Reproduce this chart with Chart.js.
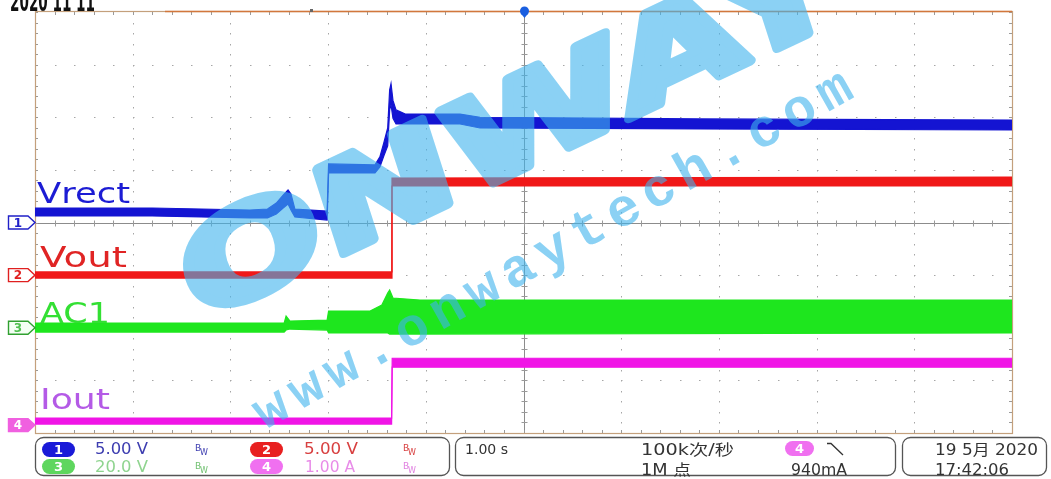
<!DOCTYPE html>
<html><head><meta charset="utf-8">
<script src="https://cdn.jsdelivr.net/npm/chart.js@4.4.0/dist/chart.umd.min.js"></script>
<style>html,body{margin:0;padding:0;background:#fff;overflow:hidden}canvas{display:block}</style>
</head><body>
<canvas id="c" width="1051" height="479"></canvas>
<script>
// ---- Data (time in s relative to trigger; band = max/min envelope) ----
const vrectT  = [-5.00,-3.80,-2.80,-2.62,-2.53,-2.46,-2.41,-2.38,-2.34,-2.01,-1.995,-1.52,-1.47,-1.43,-1.39,-1.37,-1.356,-1.336,-1.305,-1.21,-0.65,-0.445,1.81,5.00];
const vrectHi = [1.38,1.38,1.19,1.28,1.85,2.61,3.09,2.71,1.28,1.09,5.56,5.47,6.23,7.56,8.98,12.6,13.2,11.6,10.7,10.3,10.3,10.0,9.84,9.74];
const vrectLo = [0.62,0.62,0.43,0.43,0.81,1.38,1.76,1.19,0.52,0.24,4.71,4.71,5.28,6.32,7.27,10.7,11.2,9.9,9.36,9.36,9.36,8.98,8.89,8.79];

const voutT  = [-5.00,-1.352,-1.346,5.00];
const voutHi = [0.30,0.30,9.23,9.32];
const voutLo = [-0.28,-0.28,8.47,8.47];

const ac1T  = [-5.00,-2.45,-2.43,-2.39,-2.01,-1.995,-1.57,-1.45,-1.39,-1.37,-1.336,-1.06,5.00];
const ac1Hi = [1.79,1.79,4.45,2.55,2.93,6.35,6.35,8.63,13.2,14.3,11.3,10.5,10.5];
const ac1Lo = [-1.63,-1.63,-0.87,-0.49,-0.87,-2.0,-2.0,-2.0,-2.0,-2.4,-2.4,-2.4,-2.0];

const ioutT  = [-5.00,-1.350,-1.344,5.00];
const ioutHi = [0.133,0.133,1.27,1.27];
const ioutLo = [0.019,0.019,1.10,1.10];

const channelNames = ['Vrect','Vout','AC1','Iout'];
const channelScales = ['5.00 V','5.00 V','20.0 V','1.00 A'];
const timebase = '1.00 s';
const sampleRate = '100k次/秒';
const recordLen = '1M 点';
const triggerLevel = '940mA';
const dateText = '19 5月 2020';
const timeText = '17:42:06';

// ---- channel setup (units per division, ground offset in divisions) ----
const chans = [
  {t:vrectT, hi:vrectHi, lo:vrectLo, perDiv:5,  offset:0,     color:'#1414d2'},
  {t:voutT,  hi:voutHi,  lo:voutLo,  perDiv:5,  offset:-1,    color:'#f01818'},
  {t:ac1T,   hi:ac1Hi,   lo:ac1Lo,   perDiv:20, offset:-2,    color:'#1ee61e'},
  {t:ioutT,  hi:ioutHi,  lo:ioutLo,  perDiv:1,  offset:-3.85, color:'#f014e6'}
];
const datasets = [];
chans.forEach(ch => {
  const d = v => ch.offset + v / ch.perDiv;
  datasets.push({data: ch.t.map((t,k)=>({x:t,y:d(ch.hi[k])})), borderColor:ch.color, borderWidth:1.2, pointRadius:0, fill:false});
  datasets.push({data: ch.t.map((t,k)=>({x:t,y:d(ch.lo[k])})), borderColor:ch.color, borderWidth:1.2, pointRadius:0, fill:'-1', backgroundColor:ch.color});
});

function txt(c, s, x, y, font, color, w) {
  c.save(); c.font = font; c.fillStyle = color; c.textAlign = 'left'; c.textBaseline = 'alphabetic';
  c.translate(x, y);
  if (w) { const m = c.measureText(s).width; c.scale(w / m, 1); }
  c.fillText(s, 0, 0); c.restore();
}
function pill(c, x, y, w, h, fill, label, tcol) {
  c.save(); c.fillStyle = fill; c.beginPath(); c.roundRect(x, y, w, h, h/2); c.fill();
  c.fillStyle = tcol || '#fff'; c.font = 'bold 13px "DejaVu Sans"'; c.textAlign='center'; c.textBaseline='middle';
  c.fillText(label, x + w/2, y + h/2 + 1); c.restore();
}
function bw(c, x, y, color) {
  txt(c, 'B', x, y, '9px "DejaVu Sans"', color);
  txt(c, 'W', x + 5, y + 4, '8px "DejaVu Sans"', color);
}

function watermark(w, h) {
  const off = document.createElement('canvas'); off.width = w; off.height = h;
  const o = off.getContext('2d');
  o.fillStyle = 'rgb(63,180,238)'; o.strokeStyle = 'rgb(63,180,238)';
  o.save();
  o.scale(1.3, 1);
  o.translate(392, 126);
  o.rotate(-31.6 * Math.PI / 180);
  o.transform(1, 0, -0.32, 1, 0, 0);
  o.font = 'bold 114px "DejaVu Sans"'; o.textAlign = 'center'; o.textBaseline = 'alphabetic';
  const m = o.measureText('ONWAY').width;
  o.scale(590 / m, 1);
  o.lineWidth = 8; o.lineJoin = 'round';
  o.fillText('ONWAY', 0, 42); o.strokeText('ONWAY', 0, 42);
  o.restore();
  const s = 'www.onwaytech.com', x1 = 272, y1 = 410, x2 = 835, y2 = 92;
  const ang = Math.atan2(y2 - y1, x2 - x1);
  o.font = 'bold 54px "Liberation Mono"'; o.textAlign = 'center'; o.textBaseline = 'alphabetic';
  for (let k = 0; k < s.length; k++) {
    const f = k / (s.length - 1);
    o.save(); o.translate(x1 + (x2 - x1) * f, y1 + (y2 - y1) * f); o.rotate(ang);
    o.fillText(s[k], 0, 14); o.restore();
  }
  return off;
}

const scopePlugin = {
  id: 'scope',
  beforeDraw(chart) {
    const c = chart.ctx, xs = chart.scales.x, ys = chart.scales.y;
    c.save();
    c.fillStyle = '#fff'; c.fillRect(0, 0, chart.width, chart.height);
    const L = xs.getPixelForValue(-5), R = xs.getPixelForValue(5), T = ys.getPixelForValue(4), B = ys.getPixelForValue(-4);
    c.fillStyle = '#a6a6a6';
    for (let i = -4; i <= 4; i++) {
      if (i === 0) continue;
      const X = Math.round(xs.getPixelForValue(i));
      for (let j = -19; j <= 19; j++) { const Y = Math.round(ys.getPixelForValue(j * 0.2)); c.fillRect(X, Y, 1, 1.5); }
    }
    for (let i = -3; i <= 3; i++) {
      if (i === 0) continue;
      const Y = Math.round(ys.getPixelForValue(i));
      for (let j = -24; j <= 24; j++) { const X = Math.round(xs.getPixelForValue(j * 0.2)); c.fillRect(X, Y, 1.5, 1); }
    }
    const X0 = Math.round(xs.getPixelForValue(0)) + 0.5, Y0 = Math.round(ys.getPixelForValue(0)) + 0.5;
    c.strokeStyle = '#8c8c8c'; c.lineWidth = 1;
    c.beginPath(); c.moveTo(X0, T); c.lineTo(X0, B); c.moveTo(L, Y0); c.lineTo(R, Y0); c.stroke();
    c.strokeStyle = '#9a9a9a';
    c.beginPath();
    for (let j = -20; j <= 20; j++) { const Y = Math.round(ys.getPixelForValue(j * 0.2)) + 0.5; c.moveTo(X0 - 3, Y); c.lineTo(X0 + 3, Y); }
    for (let j = -25; j <= 25; j++) { const X = Math.round(xs.getPixelForValue(j * 0.2)) + 0.5; c.moveTo(X, Y0 - 3); c.lineTo(X, Y0 + 3); }
    for (let j = -25; j <= 25; j++) { const X = Math.round(xs.getPixelForValue(j * 0.2)) + 0.5; c.moveTo(X, T); c.lineTo(X, T + 3); c.moveTo(X, B); c.lineTo(X, B - 3); }
    for (let j = -20; j <= 20; j++) { const Y = Math.round(ys.getPixelForValue(j * 0.2)) + 0.5; c.moveTo(L, Y); c.lineTo(L + 3, Y); c.moveTo(R, Y); c.lineTo(R - 3, Y); }
    c.stroke();
    c.strokeStyle = '#c4a07c'; c.lineWidth = 1.2;
    c.strokeRect(Math.round(L) + 0.5, Math.round(T) - 0.5, Math.round(R - L), Math.round(B - T) + 1);
    c.strokeStyle = '#d2773c'; c.lineWidth = 1.6;
    c.beginPath(); c.moveTo(165, Math.round(T) - 0.5); c.lineTo(R, Math.round(T) - 0.5); c.stroke();
    c.restore();
  },
  afterDatasetsDraw(chart) {
    const c = chart.ctx, xs = chart.scales.x, ys = chart.scales.y;
    const L = xs.getPixelForValue(-5);
    c.save(); c.globalAlpha = 0.6; c.drawImage(watermark(chart.width, chart.height), 0, 0); c.restore();

    txt(c, '2020 11 11', 10, 11, 'bold 27px "DejaVu Sans"', '#111', 85);
    c.save();
    const TX = Math.round(xs.getPixelForValue(0)) + 0.5;
    c.fillStyle = '#1a5fe0';
    c.beginPath(); c.arc(TX, 11, 4.5, 0, Math.PI * 2); c.fill();
    c.beginPath(); c.moveTo(TX - 4, 13); c.lineTo(TX + 4, 13); c.lineTo(TX, 18); c.closePath(); c.fill();
    c.fillStyle = '#666'; c.fillRect(310, 9, 3, 3);
    c.restore();

    txt(c, channelNames[0], 37, 203, '28px "DejaVu Sans"', '#1c1cd4', 93);
    txt(c, channelNames[1], 40, 267, '28px "DejaVu Sans"', '#e02424', 87);
    txt(c, channelNames[2], 40, 323, '28px "DejaVu Sans"', '#33e033', 70);
    txt(c, channelNames[3], 40, 409, '28px "DejaVu Sans"', '#b45ae6', 70);

    const mk = [
      {n:'1', stroke:'#2020c8', fill:'#fff', tc:'#2020c8'},
      {n:'2', stroke:'#e02020', fill:'#fff', tc:'#e02020'},
      {n:'3', stroke:'#30a030', fill:'#f4fff4', tc:'#50c050'},
      {n:'4', stroke:'#f060e0', fill:'#f060e0', tc:'#fff'}
    ];
    chans.forEach((ch, i) => {
      const yc = ys.getPixelForValue(ch.offset);
      c.save();
      c.beginPath(); c.moveTo(8.5, yc - 6.5); c.lineTo(28, yc - 6.5); c.lineTo(L, yc); c.lineTo(28, yc + 6.5); c.lineTo(8.5, yc + 6.5); c.closePath();
      c.fillStyle = mk[i].fill; c.fill(); c.strokeStyle = mk[i].stroke; c.lineWidth = 1.4; c.stroke();
      c.fillStyle = mk[i].tc; c.font = 'bold 12px "DejaVu Sans"'; c.textAlign = 'center'; c.textBaseline = 'middle';
      c.fillText(mk[i].n, 18, yc + 1);
      c.restore();
    });

    c.save();
    c.strokeStyle = '#555'; c.lineWidth = 1.3;
    c.beginPath(); c.roundRect(35.5, 437.5, 414, 38, 8); c.stroke();
    c.beginPath(); c.roundRect(455.5, 437.5, 440, 38, 8); c.stroke();
    c.beginPath(); c.roundRect(902.5, 437.5, 144, 38, 8); c.stroke();
    c.restore();
    pill(c, 42, 442, 33, 15, '#1a1ad8', '1');
    pill(c, 250, 442, 33, 15, '#e82020', '2');
    pill(c, 42, 459, 33, 15, '#5ed65e', '3');
    pill(c, 250, 459, 33, 15, '#f070f0', '4');
    txt(c, channelScales[0], 95, 454, '15px "DejaVu Sans"', '#3d3db0', 53);
    txt(c, channelScales[1], 304, 454, '15px "DejaVu Sans"', '#d84040', 54);
    txt(c, channelScales[2], 95, 472, '15px "DejaVu Sans"', '#8fd48f', 53);
    txt(c, channelScales[3], 305, 472, '15px "DejaVu Sans"', '#e88ce8', 50);
    bw(c, 195, 451, '#3d3db0'); bw(c, 403, 451, '#d84040');
    bw(c, 195, 469, '#70c070'); bw(c, 403, 469, '#e080e0');
    const fnt = '15px "DejaVu Sans", "Noto Sans CJK SC"';
    txt(c, timebase, 465, 454, '14px "DejaVu Sans"', '#333', 43);
    txt(c, sampleRate, 641, 455, fnt, '#333', 93);
    txt(c, recordLen, 641, 475, fnt, '#333', 50);
    pill(c, 785, 441, 29, 15, '#f070f0', '4');
    c.save(); c.strokeStyle = '#333'; c.lineWidth = 1.3;
    c.beginPath(); c.moveTo(827, 443.5); c.lineTo(831, 443.5); c.lineTo(843, 455); c.stroke(); c.restore();
    txt(c, triggerLevel, 791, 475, fnt, '#333', 56);
    txt(c, dateText, 935, 455, fnt, '#333', 103);
    txt(c, timeText, 935, 475, fnt, '#333', 74);
  }
};

new Chart(document.getElementById('c'), {
  type: 'line',
  data: { datasets },
  options: {
    responsive: false, animation: false, events: [],
    layout: { padding: { left: 35, right: 39, top: 12, bottom: 46 } },
    scales: {
      x: { type: 'linear', min: -5, max: 5, display: false },
      y: { type: 'linear', min: -4, max: 4, display: false }
    },
    elements: { line: { tension: 0 }, point: { radius: 0 } },
    plugins: { legend: { display: false }, tooltip: { enabled: false } }
  },
  plugins: [scopePlugin]
});
</script>
</body></html>
